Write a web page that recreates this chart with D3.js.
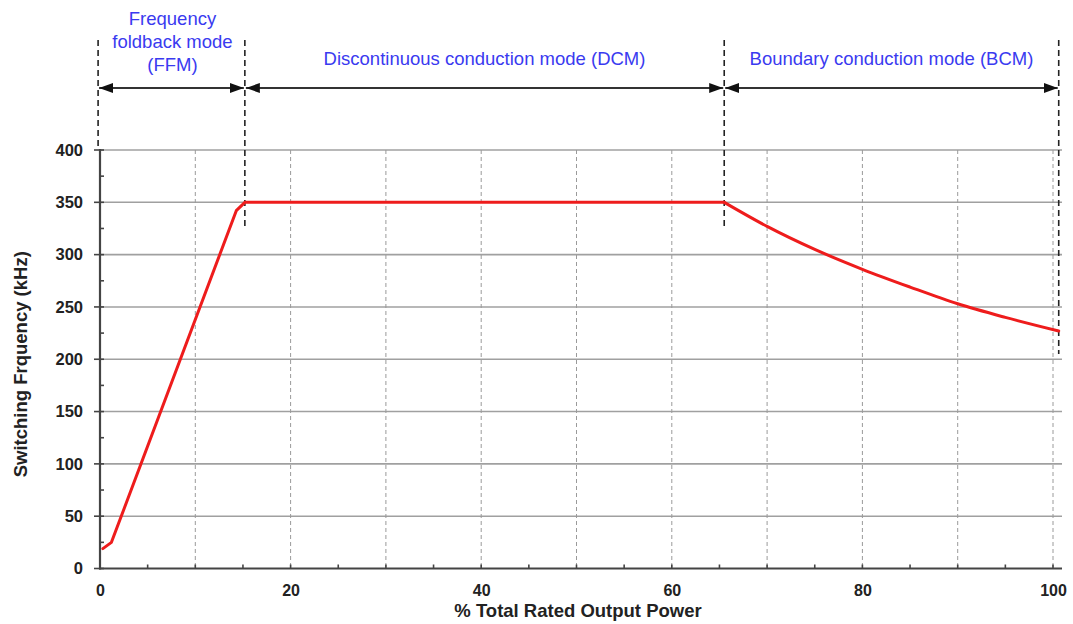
<!DOCTYPE html>
<html><head><meta charset="utf-8">
<script src="https://cdn.jsdelivr.net/npm/d3@7"></script>
<style>body{margin:0;background:#fff}svg{display:block}</style>
</head><body>
<svg id="c" width="1073" height="624"></svg>
<script>
// Data
const ffmPower = [0.3, 1.2, 14.3, 15.2, 65.5];
const ffmFreq  = [19, 25, 342, 350, 350];
const bcmPower = [65.5, 70, 75, 80, 85, 90, 95, 100.6];
const bcmFreq  = [350, 327, 305, 286, 269, 253, 240, 227];
const xTicks = [0, 20, 40, 60, 80, 100];
const yTicks = [0, 50, 100, 150, 200, 250, 300, 350, 400];
const modeBounds = [-0.2, 15.2, 65.5, 100.6];
const modeLabels = [["Frequency", "foldback mode", "(FFM)"], ["Discontinuous conduction mode (DCM)"], ["Boundary conduction mode (BCM)"]];
const boundLowerVals = [400, 325, 325, 205];
const xTitle = "% Total Rated Output Power";
const yTitle = "Switching Frquency (kHz)";

const svg = d3.select("#c");
const x = d3.scaleLinear().domain([0, 100]).range([100, 1053]);
const y = d3.scaleLinear().domain([0, 400]).range([568.5, 150]);
const font = "Liberation Sans, Arial, sans-serif";

// horizontal grid
svg.append("g").selectAll("line").data(yTicks.filter(d => d > 0)).join("line")
  .attr("x1", x(0)).attr("x2", 1062).attr("y1", d => y(d)).attr("y2", d => y(d))
  .attr("stroke", "#a0a0a0").attr("stroke-width", 1.6);
// vertical grid
svg.append("g").selectAll("line").data(d3.range(10, 101, 10)).join("line")
  .attr("x1", d => x(d)).attr("x2", d => x(d)).attr("y1", y(400)).attr("y2", y(0))
  .attr("stroke", "#9a9a9a").attr("stroke-width", 1).attr("stroke-dasharray", "4,3");

// axes
const xAxis = d3.axisBottom(x).tickValues(xTicks).tickSize(0).tickPadding(16);
const gx = svg.append("g").attr("transform", `translate(0,${y(0)})`).call(xAxis);
gx.select(".domain").remove();
gx.selectAll("text").attr("font-family", font).attr("font-weight", "bold").attr("font-size", 16).attr("fill", "#222");
const yAxis = d3.axisLeft(y).tickValues(yTicks).tickSize(0).tickPadding(17);
const gy = svg.append("g").attr("transform", `translate(${x(0)},0)`).call(yAxis);
gy.select(".domain").remove();
gy.selectAll("text").attr("font-family", font).attr("font-weight", "bold").attr("font-size", 16.5).attr("fill", "#222");

// axis lines
svg.append("line").attr("x1", x(0) - 1).attr("x2", 1062).attr("y1", y(0)).attr("y2", y(0)).attr("stroke", "#444").attr("stroke-width", 2.2);
svg.append("line").attr("x1", x(0)).attr("x2", x(0)).attr("y1", y(400) - 1).attr("y2", y(0) + 1).attr("stroke", "#444").attr("stroke-width", 2.2);
// ticks
svg.append("g").selectAll("line").data(yTicks).join("line")
  .attr("x1", x(0) - 6).attr("x2", x(0) + 4).attr("y1", d => y(d)).attr("y2", d => y(d)).attr("stroke", "#444").attr("stroke-width", 1.6);
svg.append("g").selectAll("line").data(d3.range(25, 400, 50)).join("line")
  .attr("x1", x(0)).attr("x2", x(0) + 4).attr("y1", d => y(d)).attr("y2", d => y(d)).attr("stroke", "#444").attr("stroke-width", 1.6);
svg.append("g").selectAll("line").data(d3.range(0, 101, 5)).join("line")
  .attr("x1", d => x(d)).attr("x2", d => x(d)).attr("y1", y(0)).attr("y2", y(0) - 4).attr("stroke", "#444").attr("stroke-width", 1.6);

// mode boundaries
svg.append("g").selectAll("line").data(modeBounds).join("line")
  .attr("x1", d => x(d)).attr("x2", d => x(d)).attr("y1", 40).attr("y2", (d, i) => y(boundLowerVals[i]))
  .attr("stroke", "#222").attr("stroke-width", 1.6).attr("stroke-dasharray", "6,4");

// arrows
const defs = svg.append("defs");
defs.append("marker").attr("id", "ah").attr("viewBox", "0 0 14 10").attr("refX", 14).attr("refY", 5)
  .attr("markerWidth", 14).attr("markerHeight", 10).attr("markerUnits", "userSpaceOnUse").attr("orient", "auto-start-reverse")
  .append("path").attr("d", "M0,0 L14,5 L0,10 Z").attr("fill", "#111");
const arrowY = 88;
svg.append("g").selectAll("line").data(d3.range(modeBounds.length - 1)).join("line")
  .attr("x1", i => x(modeBounds[i]) + 1).attr("x2", i => x(modeBounds[i + 1]) - 1)
  .attr("y1", arrowY).attr("y2", arrowY)
  .attr("stroke", "#333").attr("stroke-width", 2)
  .attr("marker-start", "url(#ah)").attr("marker-end", "url(#ah)");

// mode labels
modeLabels.forEach((lines, i) => {
  const cx = (x(modeBounds[i]) + x(modeBounds[i + 1])) / 2;
  const t = svg.append("text").attr("font-family", font).attr("font-size", 18.5).attr("fill", "#3a3af0").attr("text-anchor", "middle");
  if (lines.length === 1) {
    t.append("tspan").attr("x", cx).attr("y", 65).text(lines[0]);
  } else {
    lines.forEach((l, j) => t.append("tspan").attr("x", cx + 1).attr("y", 25 + j * 23).text(l));
  }
});

// curve
const ffmPts = ffmPower.map((p, i) => [p, ffmFreq[i]]);
const bcmPts = bcmPower.map((p, i) => [p, bcmFreq[i]]);
svg.append("path").datum(ffmPts)
  .attr("d", d3.line().x(d => x(d[0])).y(d => y(d[1])))
  .attr("fill", "none").attr("stroke", "#ee1c1c").attr("stroke-width", 3).attr("stroke-linejoin", "round").attr("stroke-linecap", "round");
svg.append("path").datum(bcmPts)
  .attr("d", d3.line().x(d => x(d[0])).y(d => y(d[1])).curve(d3.curveMonotoneX))
  .attr("fill", "none").attr("stroke", "#ee1c1c").attr("stroke-width", 3).attr("stroke-linejoin", "round").attr("stroke-linecap", "round");

// titles
svg.append("text").attr("x", 578).attr("y", 617).attr("text-anchor", "middle")
  .attr("font-family", font).attr("font-weight", "bold").attr("font-size", 18.5).attr("fill", "#222").text(xTitle);
svg.append("text").attr("transform", `translate(27,${(y(0) + y(400)) / 2 + 5}) rotate(-90)`).attr("text-anchor", "middle")
  .attr("font-family", font).attr("font-weight", "bold").attr("font-size", 18.5).attr("fill", "#222").text(yTitle);
</script>
</body></html>
